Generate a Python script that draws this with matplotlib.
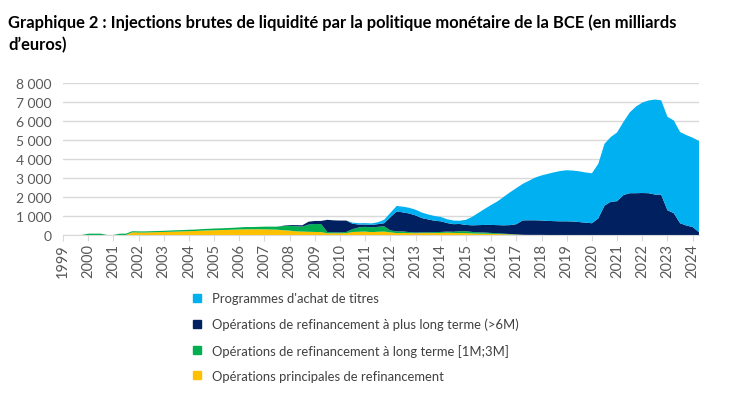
import matplotlib
matplotlib.use("Agg")
import matplotlib.pyplot as plt
import matplotlib.patches as mpatches
from matplotlib.ticker import FuncFormatter, MultipleLocator
import numpy as np
import pandas as pd

# quarterly observations, Q1 1999 -> Q2 2024 (billions of euros)
dates = pd.date_range("1999-01-01", "2024-04-01", freq="QS")

mro = [0, 0, 0, 0,
       0, 0, 0, 0,
       0, 0, 0, 140,
       130, 130, 140, 150,
       160, 170, 180, 190,
       200, 210, 230, 240,
       250, 260, 270, 280,
       290, 300, 300, 300,
       300, 290, 280, 250,
       230, 190, 180, 170,
       160, 150, 90, 90,
       90, 100, 160, 170,
       180, 150, 170, 180,
       140, 100, 110, 100,
       90, 100, 100, 100,
       110, 120, 110, 100,
       100, 80, 70, 70,
       60, 50, 40, 30,
       20, 10, 5, 5,
       5, 0, 0, 0,
       0, 0, 0, 0,
       0, 0, 0, 0,
       0, 0, 0, 0,
       0, 0, 0, 0,
       0, 0, 0, 0,
       0, 0]

ltro = [0, 0, 0, 0,
        70, 70, 70, 0,
        0, 70, 70, 60,
        60, 60, 60, 60,
        60, 65, 70, 70,
        75, 75, 80, 85,
        90, 90, 95, 100,
        110, 120, 120, 130,
        140, 150, 160, 220,
        250, 270, 260, 380,
        420, 420, 60, 50,
        50, 60, 150, 230,
        250, 250, 260, 280,
        100, 90, 80, 50,
        40, 40, 40, 50,
        50, 60, 60, 100,
        100, 80, 70, 60,
        50, 40, 30, 20,
        10, 0, 0, 0,
        0, 0, 0, 0,
        0, 0, 0, 0,
        0, 0, 0, 0,
        0, 0, 0, 0,
        0, 0, 0, 0,
        0, 0, 0, 0,
        0, 0]

vltro = [0, 0, 0, 0,
         0, 0, 0, 0,
         0, 0, 0, 0,
         0, 0, 0, 0,
         0, 0, 0, 0,
         0, 0, 0, 0,
         0, 0, 0, 0,
         0, 0, 0, 0,
         0, 0, 0, 20,
         40, 60, 70, 150,
         160, 170, 650, 630,
         620, 600, 280, 150,
         120, 130, 140, 160,
         700, 1050, 1000, 980,
         900, 750, 680, 600,
         560, 450, 400, 380,
         330, 350, 380, 400,
         420, 430, 440, 470,
         540, 760, 770, 770,
         760, 740, 730, 720,
         720, 710, 680, 650,
         620, 870, 1550, 1750,
         1780, 2100, 2200, 2200,
         2210, 2200, 2130, 2120,
         1300, 1150, 620, 500,
         420, 150]

app = [0, 0, 0, 0,
       0, 0, 0, 0,
       0, 0, 0, 0,
       0, 0, 0, 0,
       0, 0, 0, 0,
       0, 0, 0, 0,
       0, 0, 0, 0,
       0, 0, 0, 0,
       0, 0, 0, 0,
       0, 0, 0, 0,
       0, 0, 0, 0,
       0, 0, 60, 70,
       75, 80, 100, 180,
       230, 290, 300, 300,
       300, 290, 260, 250,
       230, 200, 190, 170,
       270, 450, 650, 850,
       1050, 1250, 1500, 1730,
       1900, 1920, 2080, 2250,
       2370, 2480, 2570, 2650,
       2690, 2680, 2670, 2640,
       2630, 2870, 3250, 3410,
       3620, 3850, 4250, 4560,
       4760, 4880, 5000, 4970,
       4920, 4880, 4800, 4760,
       4700, 4800]

labels = ["Programmes d'achat de titres",
          "Opérations de refinancement à plus long terme (>6M)",
          "Opérations de refinancement à long terme [1M;3M]",
          "Opérations principales de refinancement"]
colors = ["#00B0F0", "#002060", "#00B050", "#FFC000"]
years = list(range(1999, 2025))

plt.rcParams['font.family'] = ['Lato', 'DejaVu Sans']

fig = plt.figure(figsize=(7.3, 4.1), dpi=100)
ax = fig.add_axes([0.0863, 0.4244, 0.8712, 0.3707])

x = dates.year + (dates.month - 1) / 12
ax.stackplot(x, mro, ltro, vltro, app,
             colors=[colors[3], colors[2], colors[1], colors[0]], lw=0)

ax.set_xlim(1999, 2024.25)
ax.set_ylim(0, 8000)
ax.yaxis.set_major_locator(MultipleLocator(1000))
ax.yaxis.set_major_formatter(FuncFormatter(lambda v, p: "{:,.0f}".format(v).replace(",", " ")))
ax.set_xticks(years)
ax.set_xticklabels([str(y) for y in years], rotation=90)
ax.grid(axis='y', color='#D9D9D9', lw=1)
ax.set_axisbelow(True)
for s in ['top', 'right', 'left']:
    ax.spines[s].set_visible(False)
ax.spines['bottom'].set_color('#D9D9D9')
ax.tick_params(axis='y', length=0, labelsize=10, labelcolor='#595959', pad=8)
ax.tick_params(axis='x', length=4, color='#D9D9D9', labelsize=10.5, labelcolor='#595959', pad=2)

fig.text(0.011, 0.965, "Graphique 2 : Injections brutes de liquidité par la politique monétaire de la BCE (en milliards\nd\u2019euros)",
         fontsize=11.9, fontweight='bold', va='top', ha='left', linespacing=1.45)

handles = [mpatches.Patch(color=c) for c in colors]
fig.legend(handles, labels, loc='upper left', bbox_to_anchor=(0.248, 0.313),
           frameon=False, fontsize=9.4, labelcolor='#404040',
           handlelength=0.6, handleheight=0.6, handletextpad=0.9, labelspacing=1.02)

fig.savefig("out.png", dpi=100)
